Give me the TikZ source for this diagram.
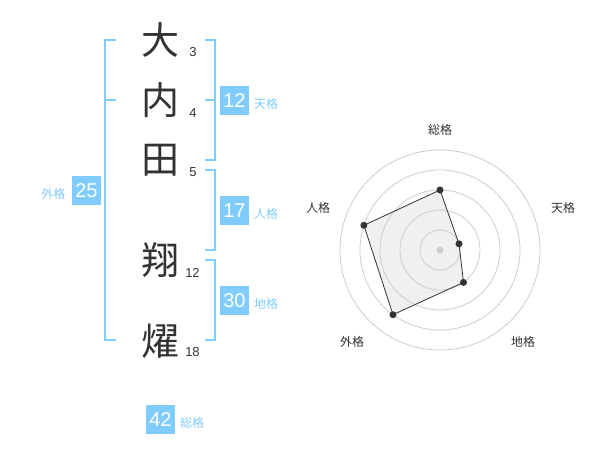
\documentclass[tikz,border=0pt]{standalone}
\usepackage{fontspec}
\setmainfont{Liberation Sans}
\newfontfamily\cjk{Noto Sans CJK JP}
\definecolor{kblue}{HTML}{80CCFF}
\definecolor{ktext}{HTML}{333333}
\definecolor{kring}{HTML}{CCCCCC}
\definecolor{kfill}{HTML}{F0F0F0}
\tikzset{
  kanji/.style={inner sep=0pt, text=ktext, font=\cjk\fontsize{38}{38}\selectfont},
  stroke/.style={inner sep=0pt, text=ktext, font=\fontsize{13}{13}\selectfont},
  brk/.style={draw=kblue, line width=2pt},
  vbox/.style={fill=kblue, text=white, minimum width=29pt, minimum height=29pt, inner sep=0pt, font=\fontsize{20}{20}\selectfont},
  vlbl/.style={inner sep=0pt, text=kblue, font=\cjk\fontsize{12}{12}\selectfont},
  ring/.style={draw=kring, line width=0.8pt},
  axlbl/.style={inner sep=0pt, text=ktext, font=\cjk\fontsize{12}{12}\selectfont},
  vdot/.style={circle, fill=ktext, inner sep=0pt, minimum size=7pt},
}
\begin{document}
\begin{tikzpicture}[x=1pt,y=-1pt]
\useasboundingbox (0,0) rectangle (600,470);
% name characters
\node[kanji] (k1) at (160,40) {大};
\node[kanji] (k2) at (160,100) {内};
\node[kanji] (k3) at (160,160) {田};
\node[kanji] (k4) at (160,260) {翔};
\node[kanji] (k5) at (160,341) {燿};
\node[stroke] (s1) at (193,52.5) {3};
\node[stroke] (s2) at (193,113) {4};
\node[stroke] (s3) at (193,172.5) {5};
\node[stroke] (s4) at (192.5,272.5) {12};
\node[stroke] (s5) at (192.5,352.5) {18};
% outer bracket
\draw[brk] (116,40) -- (105,40) -- (105,340) -- (116,340);
\draw[brk] (105,100) -- (116,100);
% right brackets
\draw[brk] (205,40) -- (215,40) -- (215,160) -- (205,160);
\draw[brk] (215,100) -- (205,100);
\draw[brk] (205,170) -- (215,170) -- (215,250) -- (205,250);
\draw[brk] (205,260) -- (215,260) -- (215,340) -- (205,340);
% value boxes
\node[vbox] (b1) at (234.5,100.5) {12};
\node[vlbl] (l1) at (266,104) {天格};
\node[vbox] (b2) at (234.5,210.5) {17};
\node[vlbl] (l2) at (266,214) {人格};
\node[vbox] (b3) at (234.5,300.5) {30};
\node[vlbl] (l3) at (266,304) {地格};
\node[vbox] (b4) at (86.5,190.5) {25};
\node[vlbl] (l4) at (53.5,194) {外格};
\node[vbox] (b5) at (160.5,419.5) {42};
\node[vlbl] (l5) at (192,423) {総格};
% radar chart
\coordinate (c) at (440,250);
\coordinate (p1) at (440,190);
\coordinate (p2) at (459.0,243.8);
\coordinate (p3) at (463.5,282.4);
\coordinate (p4) at (393.0,314.7);
\coordinate (p5) at (363.9,225.3);
\fill[kfill] (p1) -- (p2) -- (p3) -- (p4) -- (p5) -- cycle;
\foreach \r in {20,40,60,80,100} {\draw[ring] (c) circle[radius=\r];}
\fill[kring] (c) circle[radius=3.5];
\draw[ktext, line width=0.8pt] (p1) -- (p2) -- (p3) -- (p4) -- (p5) -- cycle;
\foreach \p in {p1,p2,p3,p4,p5} {\node[vdot] at (\p) {};}
\node[axlbl] (a1) at (440,130) {総格};
\node[axlbl] (a2) at (563,208) {天格};
\node[axlbl] (a3) at (523,342) {地格};
\node[axlbl] (a4) at (352,342) {外格};
\node[axlbl] (a5) at (318,208) {人格};
\end{tikzpicture}
\end{document}
